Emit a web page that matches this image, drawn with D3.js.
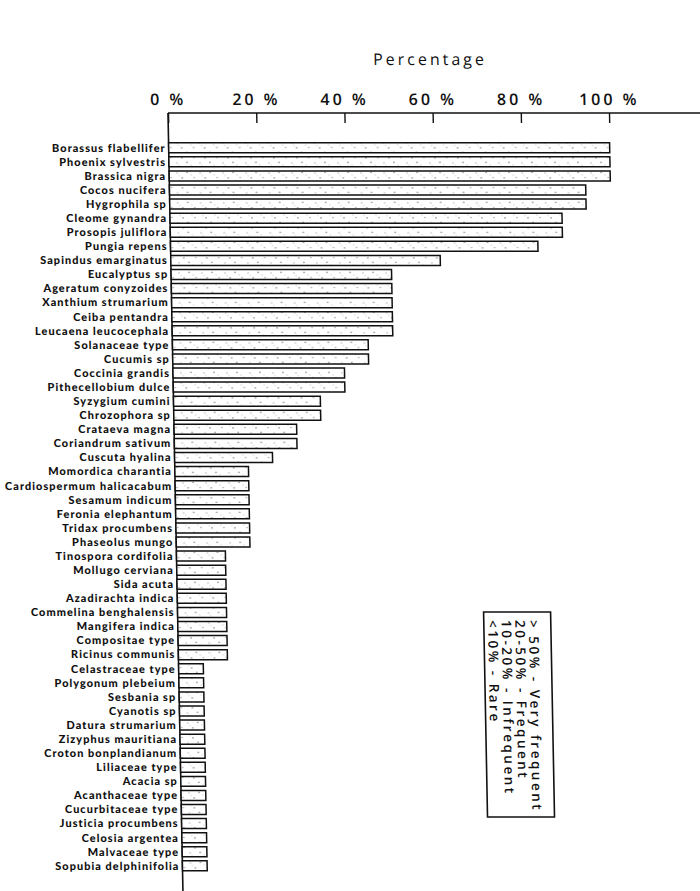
<!DOCTYPE html>
<html>
<head>
<meta charset="utf-8">
<script src="https://cdn.jsdelivr.net/npm/d3@7"></script>
<style>
  html, body { margin: 0; padding: 0; background: #fff; }
  svg { display: block; }
</style>
</head>
<body>
<div id="chart"></div>
<script>
// Pollen taxa, ordered by frequency of occurrence
const taxa = [
  "Borassus flabellifer", "Phoenix sylvestris", "Brassica nigra", "Cocos nucifera",
  "Hygrophila sp", "Cleome gynandra", "Prosopis juliflora", "Pungia repens",
  "Sapindus emarginatus", "Eucalyptus sp", "Ageratum conyzoides", "Xanthium strumarium",
  "Ceiba pentandra", "Leucaena leucocephala", "Solanaceae type", "Cucumis sp",
  "Coccinia grandis", "Pithecellobium dulce", "Syzygium cumini", "Chrozophora sp",
  "Crataeva magna", "Coriandrum sativum", "Cuscuta hyalina", "Momordica charantia",
  "Cardiospermum halicacabum", "Sesamum indicum", "Feronia elephantum", "Tridax procumbens",
  "Phaseolus mungo", "Tinospora cordifolia", "Mollugo cerviana", "Sida acuta",
  "Azadirachta indica", "Commelina benghalensis", "Mangifera indica", "Compositae type",
  "Ricinus communis", "Celastraceae type", "Polygonum plebeium", "Sesbania sp",
  "Cyanotis sp", "Datura strumarium", "Zizyphus mauritiana", "Croton bonplandianum",
  "Liliaceae type", "Acacia sp", "Acanthaceae type", "Cucurbitaceae type",
  "Justicia procumbens", "Celosia argentea", "Malvaceae type", "Sopubia delphinifolia"
];

// Percentage of samples in which each taxon occurs
const percentages = [
  100, 100, 100, 94.4, 94.4, 88.9, 88.9, 83.3,
  61.1, 50, 50, 50, 50, 50, 44.4, 44.4,
  38.9, 38.9, 33.3, 33.3, 27.8, 27.8, 22.2, 16.7,
  16.7, 16.7, 16.7, 16.7, 16.7, 11.1, 11.1, 11.1,
  11.1, 11.1, 11.1, 11.1, 11.1, 5.6, 5.6, 5.6,
  5.6, 5.6, 5.6, 5.6, 5.6, 5.6, 5.6, 5.6,
  5.6, 5.6, 5.6, 5.6
];

const tickValues = [0, 20, 40, 60, 80, 100];
const axisTitle = "Percentage";

const legendLines = [
  "> 50%  -  Very frequent",
  "20-50%  -  Frequent",
  "10-20%  -  Infrequent",
  "<10%  -  Rare"
];

const data = taxa.map((name, i) => ({ name, value: percentages[i] }));

const W = 700, H = 891;
const axisY = 113;
const svg = d3.select("#chart").append("svg")
  .attr("width", W).attr("height", H);

// Stippled fill for the bars
const defs = svg.append("defs");
const pat = defs.append("pattern")
  .attr("id", "stipple")
  .attr("patternUnits", "userSpaceOnUse")
  .attr("width", 23).attr("height", 10);
pat.append("rect").attr("width", 23).attr("height", 10).attr("fill", "#fff");
[[2, 2.2, 0.7], [9, 7.6, 0.6], [15, 2.8, 0.5], [20, 7.9, 0.7], [6, 5, 0.4], [17, 5.4, 0.4]]
  .forEach(([cx, cy, r]) => pat.append("circle")
    .attr("cx", cx).attr("cy", cy).attr("r", r).attr("fill", "#555"));

// The plot leans slightly to the right going down the page
const lean = 1.1;
const g = svg.append("g")
  .attr("transform", `translate(${-axisY * Math.tan(lean * Math.PI / 180)},0) skewX(${lean})`);

const x = d3.scaleLinear().domain([0, 100]).range([168, 609]);
const y = d3.scaleBand()
  .domain(taxa)
  .range([140.7, 872.9])
  .paddingInner(0.29)
  .paddingOuter(0.145);

// Title
g.append("text")
  .attr("x", 431).attr("y", 65)
  .attr("text-anchor", "middle")
  .style("font-family", "'Open Sans', sans-serif")
  .style("font-size", "16px")
  .style("letter-spacing", "3px")
  .attr("fill", "#111")
  .text(axisTitle);

// Top axis with inward ticks
const axis = d3.axisTop(x)
  .tickValues(tickValues)
  .tickFormat(d => d + " %")
  .tickSizeInner(-10)
  .tickSizeOuter(0)
  .tickPadding(8);

const ax = g.append("g")
  .attr("transform", `translate(0,${axisY})`)
  .call(axis);
ax.select(".domain").remove();
ax.selectAll(".tick line").attr("stroke", "#111").attr("stroke-width", 1.4);
ax.selectAll(".tick text")
  .attr("fill", "#111")
  .style("font-family", "'Open Sans', sans-serif")
  .style("font-weight", "600")
  .style("font-size", "16px")
  .style("letter-spacing", "3px");

// Frame lines: horizontal along the top, vertical at zero
g.append("line")
  .attr("x1", x(0)).attr("x2", 720)
  .attr("y1", axisY).attr("y2", axisY)
  .attr("stroke", "#111").attr("stroke-width", 1.6);
g.append("line")
  .attr("x1", x(0)).attr("x2", x(0))
  .attr("y1", axisY).attr("y2", H + 5)
  .attr("stroke", "#111").attr("stroke-width", 1.6);

// Bars
g.selectAll("rect.bar")
  .data(data)
  .join("rect")
  .attr("class", "bar")
  .attr("x", x(0))
  .attr("y", d => y(d.name))
  .attr("width", d => x(d.value) - x(0))
  .attr("height", y.bandwidth())
  .attr("fill", "url(#stipple)")
  .attr("stroke", "#111")
  .attr("stroke-width", 1.5);

// Taxon labels
g.selectAll("text.taxon")
  .data(data)
  .join("text")
  .attr("class", "taxon")
  .attr("x", x(0) - 3)
  .attr("y", d => y(d.name) + y.bandwidth() / 2)
  .attr("dy", "0.35em")
  .attr("text-anchor", "end")
  .style("font-family", "Lato, sans-serif")
  .style("font-weight", "900")
  .style("font-size", "11px")
  .style("letter-spacing", "1px")
  .attr("fill", "#111")
  .text(d => d.name);

// Frequency classes key, turned on its side
const key = g.append("g")
  .attr("transform", "translate(474,612)");
key.append("rect")
  .attr("width", 67).attr("height", 205)
  .attr("fill", "none")
  .attr("stroke", "#111")
  .attr("stroke-width", 1.6);
key.selectAll("text")
  .data(legendLines)
  .join("text")
  .attr("transform", (d, i) => `translate(${45 - i * 13.6},8) rotate(90)`)
  .style("font-family", "'Open Sans', sans-serif")
  .style("font-weight", "600")
  .style("font-size", "13.5px")
  .style("letter-spacing", "2.5px")
  .attr("fill", "#111")
  .text(d => d);
</script>
</body>
</html>
